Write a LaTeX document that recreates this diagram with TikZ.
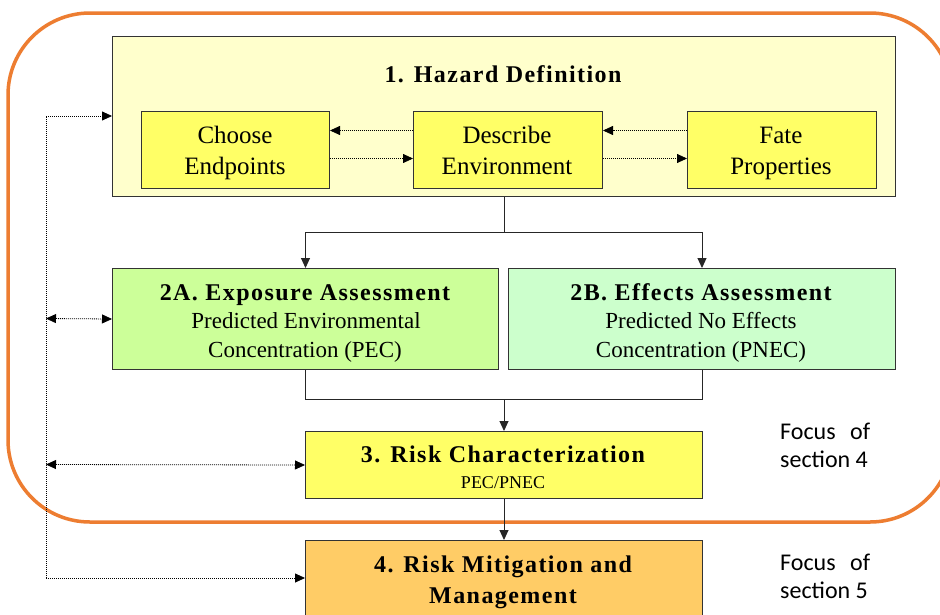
\documentclass[tikz,border=0pt]{standalone}
\usepackage{fontspec}
\setmainfont{Liberation Serif}
\newfontfamily\calfont{Carlito}
\newfontfamily\ttlfont{Liberation Serif}[LetterSpace=6]
\usetikzlibrary{arrows.meta,calc}
\definecolor{orng}{HTML}{ED7D31}
\definecolor{hzfill}{HTML}{FFFFCC}
\definecolor{ylw}{HTML}{FFFF66}
\definecolor{grnA}{HTML}{CCFF99}
\definecolor{grnB}{HTML}{CCFFCC}
\definecolor{orfill}{HTML}{FFCC66}
\begin{document}
\begin{tikzpicture}[x=1pt,y=-1pt,
  box/.style={draw=black!80,line width=1pt,inner sep=0pt,anchor=north west},
  txt/.style={anchor=base,inner sep=0pt,font=\fontsize{25}{30}\selectfont},
  sub/.style={anchor=base,inner sep=0pt,font=\fontsize{23}{28}\selectfont},
  ttl/.style={anchor=base,inner sep=0pt,font=\ttlfont\bfseries\fontsize{24}{29}\selectfont},
  foc/.style={anchor=base west,inner sep=0pt,font=\calfont\fontsize{24}{28}\selectfont},
  arr/.style={line width=1pt,draw=black!85,-{Triangle[length=10pt,width=9pt]}},
  conn/.style={line width=1pt,draw=black!85},
  dot/.style={line width=0.8pt,dash pattern=on 1pt off 1pt},
  dotarr/.style={dot,-{Triangle[length=10pt,width=9pt]}},
  dotdbl/.style={dot,{Triangle[length=10pt,width=9pt]}-{Triangle[length=10pt,width=9pt]}}]
\useasboundingbox (0,0) rectangle (940,614);
% orange focus frame
\draw[orng,line width=3.5pt,rounded corners=82pt] (8,13) rectangle (952,522);
% boxes
\node[box,fill=hzfill,minimum width=783pt,minimum height=160pt] (hz) at (112,36) {};
\node[box,fill=ylw,minimum width=188pt,minimum height=77pt] (ce) at (141,111) {};
\node[box,fill=ylw,minimum width=189pt,minimum height=77pt] (de) at (413,111) {};
\node[box,fill=ylw,minimum width=189pt,minimum height=77pt] (fp) at (687,111) {};
\node[box,fill=grnA,minimum width=386pt,minimum height=101pt] (a2) at (112,268) {};
\node[box,fill=grnB,minimum width=387pt,minimum height=101pt] (b2) at (508,268) {};
\node[box,fill=ylw,minimum width=397pt,minimum height=67pt] (r3) at (305,431) {};
\node[box,fill=orfill,minimum width=397pt,minimum height=90pt] (r4) at (305,540) {};
% texts
\node[ttl] (tHz) at (503,82) {1. Hazard Definition};
\node[txt] (tCe1) at (235,143) {Choose};
\node[txt] (tCe2) at (235,174) {Endpoints};
\node[txt] (tDe1) at (507,143) {Describe};
\node[txt] (tDe2) at (507,174) {Environment};
\node[txt] (tFp1) at (781,143) {Fate};
\node[txt] (tFp2) at (781,174) {Properties};
\node[ttl] (tA0) at (305,300) {2A. Exposure Assessment};
\node[sub] (tA1) at (306,328) {Predicted Environmental};
\node[sub] (tA2) at (305,357) {Concentration (PEC)};
\node[ttl] (tB0) at (701,300) {2B. Effects Assessment};
\node[sub] (tB1) at (701,328) {Predicted No Effects};
\node[sub] (tB2) at (701,357) {Concentration (PNEC)};
\node[ttl] (tR3) at (503,462) {3. Risk Characterization};
\node[anchor=base,inner sep=0pt,font=\fontsize{18}{22}\selectfont] (tR3b) at (503,488) {PEC/PNEC};
\node[ttl] (tR4a) at (503,572) {4. Risk Mitigation and};
\node[ttl] (tR4b) at (503,603) {Management};
\node[foc] (f4a) at (780,439) {\makebox[90pt][s]{Focus of}};
\node[foc] (f4b) at (780,467) {section 4};
\node[foc] (f5a) at (780,570) {\makebox[90pt][s]{Focus of}};
\node[foc] (f5b) at (780,598) {section 5};
% inner dotted arrows
\draw[dotarr] ([yshift=19.5pt]de.west) -- ([yshift=19.5pt]ce.east);
\draw[dotarr] ([yshift=-8.5pt]ce.east) -- ([yshift=-8.5pt]de.west);
\draw[dotarr] ([yshift=19.5pt]fp.west) -- ([yshift=19.5pt]de.east);
\draw[dotarr] ([yshift=-8.5pt]de.east) -- ([yshift=-8.5pt]fp.west);
% solid flow
\coordinate (J1) at (hz.south |- 0,232);
\coordinate (J2) at (hz.south |- 0,399);
\draw[conn] (hz.south) -- (J1);
\draw[arr] (J1) -| (a2.north);
\draw[arr] (J1) -| (b2.north);
\draw[conn] (a2.south) |- (J2);
\draw[conn] (b2.south) |- (J2);
\draw[arr] (J2) -- (r3.north);
\draw[arr] (r3.south) -- (r4.north);
% left feedback spine
\coordinate (L1) at (46,116);
\coordinate (L2) at (46,318.5);
\coordinate (L3) at (46,464.5);
\coordinate (L4) at (46,578);
\draw[dotarr] (L4) -- (L1) -- (L1 -| hz.west);
\draw[dotarr] (L4) -- (L4 -| r4.west);
\draw[dotdbl] (L2) -- (a2.west);
\draw[dotdbl] (L3) -- (r3.west);
\end{tikzpicture}
\end{document}
